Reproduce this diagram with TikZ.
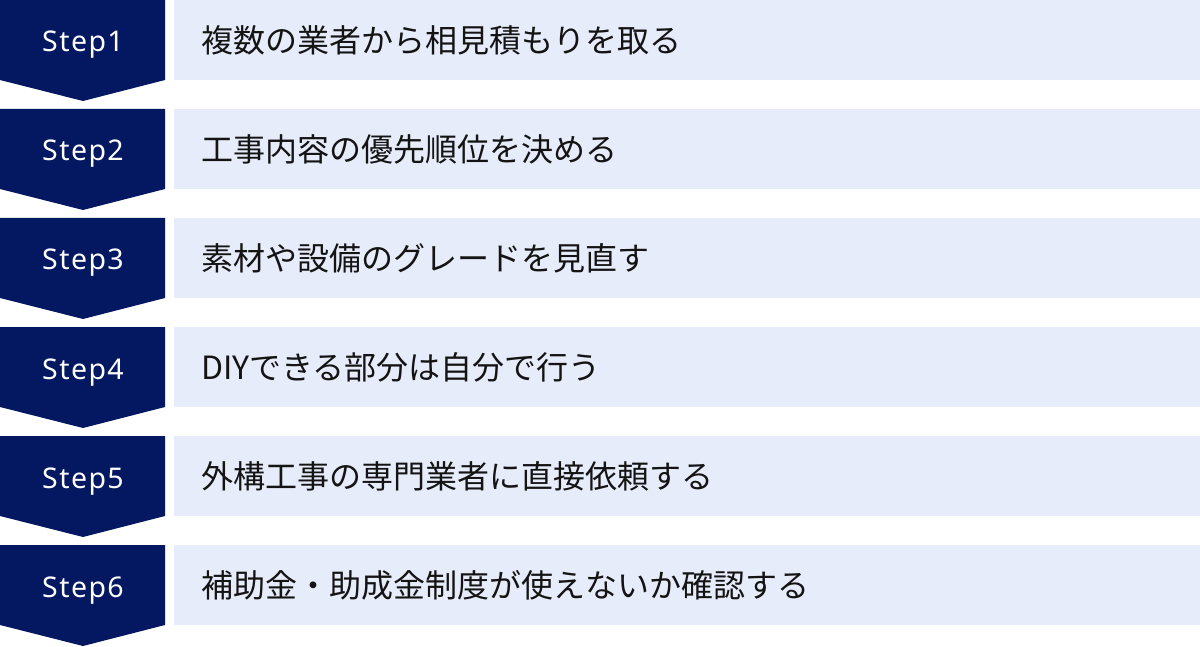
\documentclass[tikz,border=0pt]{standalone}
\usepackage{fontspec}
\setmainfont{Noto Sans}
\newfontfamily\steplabelfont[LetterSpace=5]{Noto Sans}
\newfontfamily\jpfont{Noto Sans CJK JP}
\definecolor{navy}{RGB}{4,23,97}
\definecolor{lightbox}{RGB}{230,236,249}
\definecolor{txt}{RGB}{20,20,20}
\begin{document}
\begin{tikzpicture}[x=1bp,y=-1bp,
  chev/.style={fill=navy},
  stepbox/.style={fill=lightbox},
  steplabel/.style={text=white,font=\steplabelfont\fontsize{28.5bp}{30bp}\selectfont,inner sep=0pt,anchor=base},
  steptext/.style={text=txt,font=\jpfont\fontsize{32bp}{34bp}\selectfont,inner sep=0pt,anchor=west}]
\useasboundingbox (0,0) rectangle (1200,647);
\foreach \i/\t in {1/複数の業者から相見積もりを取る,
                   2/工事内容の優先順位を決める,
                   3/素材や設備のグレードを見直す,
                   4/DIYできる部分は自分で行う,
                   5/外構工事の専門業者に直接依頼する,
                   6/補助金・助成金制度が使えないか確認する}{
  \pgfmathsetmacro{\top}{(\i-1)*109}
  \fill[chev] (0,\top) -- (165,\top) -- (165,\top+80) -- (83,\top+101) -- (0,\top+80) -- cycle;
  \fill[stepbox] (174,\top) rectangle (1200,\top+80);
  \node[steplabel] (s\i) at (83,\top+52) {Step\i};
  \node[steptext] (t\i) at (201,\top+40) {\t};
}
\end{tikzpicture}
\end{document}
